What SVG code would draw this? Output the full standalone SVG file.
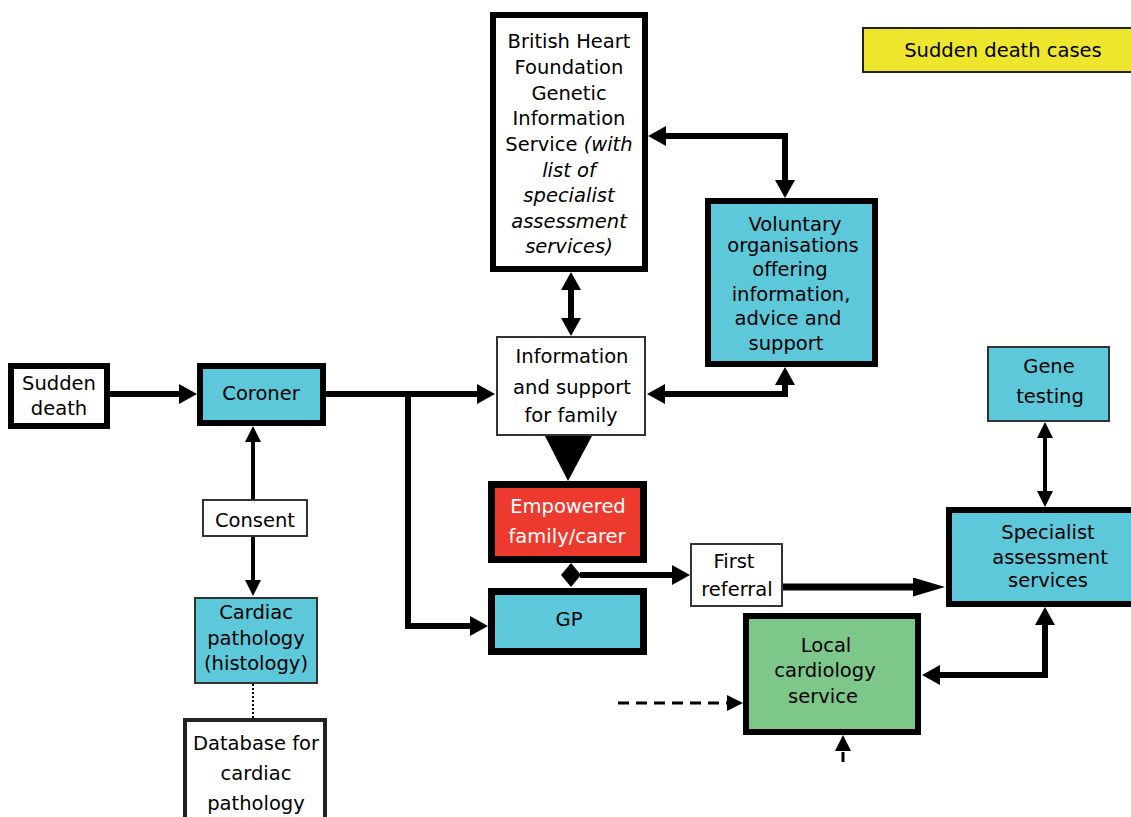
<svg xmlns="http://www.w3.org/2000/svg" width="1131" height="817" viewBox="0 0 1131 817">
<style>
text{font-family:"DejaVu Sans","Noto Sans","Liberation Sans",sans-serif;font-size:19.5px;fill:#000;text-anchor:middle;dominant-baseline:central}
.thick{stroke:#000;stroke-width:6}
.thin{stroke:#333;stroke-width:2}
.cy{fill:#5CC8DA}
.wh{fill:#fff}
.ln{fill:none;stroke:#000;stroke-width:6}
.ln4{fill:none;stroke:#000;stroke-width:4}
.it{font-style:italic}
</style>
<defs>
<marker id="a6" markerUnits="userSpaceOnUse" markerWidth="18" markerHeight="20" viewBox="0 0 18 20" refX="12" refY="10" orient="auto-start-reverse"><path d="M0,0 L18,10 L0,20 z" fill="#000"/></marker>
<marker id="a4" markerUnits="userSpaceOnUse" markerWidth="16" markerHeight="16" viewBox="0 0 16 16" refX="12" refY="8" orient="auto-start-reverse"><path d="M0,0 L16,8 L0,16 z" fill="#000"/></marker>
<marker id="al" markerUnits="userSpaceOnUse" markerWidth="32" markerHeight="19" viewBox="0 0 32 19" refX="12" refY="9.5" orient="auto"><path d="M0,0 L32,9.5 L0,19 z" fill="#000"/></marker>
<marker id="ad" markerUnits="userSpaceOnUse" markerWidth="16" markerHeight="16" viewBox="0 0 16 16" refX="12" refY="8" orient="auto"><path d="M0,0 L16,8 L0,16 z" fill="#000"/></marker>
</defs>

<g id="connectors">
<path class="ln" d="M110,394 H191" marker-end="url(#a6)"/>
<path class="ln" d="M326,394 H489" marker-end="url(#a6)"/>
<path class="ln" d="M408,391 V626 H482" marker-end="url(#a6)"/>
<path class="ln" d="M571,278 V330" marker-start="url(#a6)" marker-end="url(#a6)"/>
<path class="ln" d="M654,136 H785 V192" marker-start="url(#a6)" marker-end="url(#a6)"/>
<path class="ln" d="M785,373 V394 H653" marker-start="url(#a6)" marker-end="url(#a6)"/>
<polygon points="545,436 592,436 568,481" fill="#000"/>
<polygon points="561,575 571,563 581,575 571,587" fill="#000"/>
<path class="ln" d="M580,575 H684" marker-end="url(#a6)"/>
<path fill="none" stroke="#000" stroke-width="7" d="M783,587 H925" marker-end="url(#al)"/>
<path class="ln4" d="M1045,426 V503" marker-start="url(#a4)" marker-end="url(#a4)"/>
<path class="ln" d="M1045,613 V675 H928" marker-start="url(#a6)" marker-end="url(#a6)"/>
<path fill="none" stroke="#000" stroke-width="3" stroke-dasharray="11,7" d="M618,703 H739" marker-end="url(#ad)"/>
<path fill="none" stroke="#000" stroke-width="3" stroke-dasharray="10,3" d="M843,762 V739" marker-end="url(#ad)"/>
<path class="ln4" d="M253,430 V500" marker-start="url(#a4)"/>
<path class="ln4" d="M253,537 V592" marker-end="url(#a4)"/>
<path fill="none" stroke="#000" stroke-width="2" stroke-dasharray="2,2" d="M253,684 V719"/>
</g>

<g id="legend">
<rect x="863" y="28" width="280" height="44" fill="#EDE62C" stroke="#222" stroke-width="2"/>
<text x="1003" y="50">Sudden death cases</text>
</g>

<g id="sudden-death">
<rect x="11" y="366" width="96" height="60" class="wh thick"/>
<text x="59" y="383">Sudden</text>
<text x="59" y="408">death</text>
</g>

<g id="coroner">
<rect x="200" y="366" width="123" height="57" class="cy thick"/>
<text x="261" y="393">Coroner</text>
</g>

<g id="bhf">
<rect x="493" y="15" width="152" height="254" class="wh thick"/>
<text x="569" y="41">British Heart</text>
<text x="569" y="67">Foundation</text>
<text x="569" y="93">Genetic</text>
<text x="569" y="118">Information</text>
<text x="569" y="144">Service <tspan class="it">(with</tspan></text>
<text x="569" y="170" class="it">list of</text>
<text x="569" y="195" class="it">specialist</text>
<text x="569" y="221" class="it">assessment</text>
<text x="569" y="246" class="it">services)</text>
</g>

<g id="voluntary">
<rect x="708" y="201" width="167" height="163" class="cy thick"/>
<text x="795" y="224">Voluntary</text>
<text x="793" y="245">organisations</text>
<text x="790" y="269">offering</text>
<text x="791" y="294">information,</text>
<text x="788" y="318">advice and</text>
<text x="786" y="343">support</text>
</g>

<g id="info">
<rect x="497" y="337" width="148" height="98" class="wh thin"/>
<text x="572" y="356">Information</text>
<text x="572" y="387">and support</text>
<text x="571" y="415">for family</text>
</g>

<g id="empowered">
<rect x="491.5" y="484.5" width="152" height="75" fill="#EE3A2E" stroke="#000" stroke-width="7"/>
<text x="568" y="506" style="fill:#fff">Empowered</text>
<text x="567" y="536" style="fill:#fff">family/carer</text>
</g>

<g id="gp">
<rect x="491.5" y="591.5" width="152" height="60" class="cy" stroke="#000" stroke-width="7"/>
<text x="569" y="619">GP</text>
</g>

<g id="first-referral">
<rect x="691" y="544" width="91" height="62" class="wh thin"/>
<text x="734" y="561">First</text>
<text x="737" y="589">referral</text>
</g>

<g id="gene-testing">
<rect x="988" y="347" width="121" height="74" class="cy thin"/>
<text x="1049" y="366">Gene</text>
<text x="1050" y="396">testing</text>
</g>

<g id="specialist">
<rect x="949" y="510" width="200" height="94" class="cy thick"/>
<text x="1048" y="532">Specialist</text>
<text x="1050" y="557">assessment</text>
<text x="1048" y="580">services</text>
</g>

<g id="local-cardiology">
<rect x="746" y="616" width="172" height="116" fill="#7EC78B" class="thick"/>
<text x="826" y="645">Local</text>
<text x="825" y="670">cardiology</text>
<text x="823" y="696">service</text>
</g>

<g id="consent">
<rect x="203" y="500" width="104" height="36" class="wh thin"/>
<text x="255" y="520">Consent</text>
</g>

<g id="cardiac-pathology">
<rect x="195" y="598" width="122" height="85" class="cy thin"/>
<text x="256" y="612">Cardiac</text>
<text x="256" y="638">pathology</text>
<text x="256" y="663">(histology)</text>
</g>

<g id="database">
<rect x="185" y="720" width="140" height="120" fill="#fff" stroke="#222" stroke-width="4"/>
<text x="256" y="743">Database for</text>
<text x="256" y="773">cardiac</text>
<text x="256" y="803">pathology</text>
</g>
</svg>
